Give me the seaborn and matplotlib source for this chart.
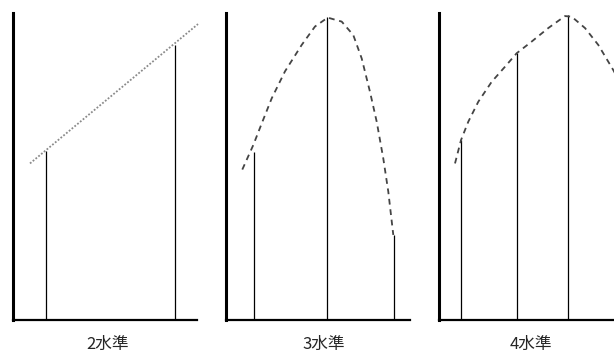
import numpy as np
import pandas as pd
import matplotlib
matplotlib.use("Agg")
import matplotlib.pyplot as plt
import seaborn as sns

sns.set_style("white")
plt.rcParams['font.family'] = ['Noto Sans CJK JP', 'DejaVu Sans']

# ---------------------------
# Data
# ---------------------------

panel_labels = ["2水準", "3水準", "4水準"]

# level positions and responses
levels_2_x = [3.3, 16.2]
levels_2_y = [55.0, 89.6]
levels_3_x = [2.75, 10.05, 16.75]
levels_3_y = [54.7, 98.6, 27.6]
levels_4_x = [2.2, 7.8, 12.9]
levels_4_y = [58.6, 87.0, 99.2]

# trend / response curves
trend_2_x = [1.7, 18.5]
trend_2_y = [51.0, 96.4]
curve_3_x = [1.63, 2.73, 3.57, 4.57, 5.9, 7.57, 8.9, 10.17, 11.57, 12.73,
             13.57, 14.4, 15.07, 15.73, 16.23, 16.73]
curve_3_y = [49.0, 57.0, 64.0, 72.2, 81.0, 89.6, 95.6, 98.5, 97.2, 92.8,
             85.2, 74.3, 64.6, 52.6, 41.8, 27.7]
curve_4_x = [1.6, 2.2, 2.93, 3.93, 5.27, 6.6, 7.77, 9.27, 10.93, 12.6,
             13.27, 14.6, 15.93, 17.43, 18.4]
curve_4_y = [51.0, 58.6, 64.6, 71.1, 77.6, 82.5, 86.9, 90.7, 95.1, 99.0,
             98.8, 95.1, 89.6, 81.4, 75.5]

panels = [
    (levels_2_x, levels_2_y, trend_2_x, trend_2_y, (0, (1, 1)), "#8a8a8a", 0.516),
    (levels_3_x, levels_3_y, curve_3_x, curve_3_y, (0, (3.2, 2.6)), "#444444", 0.533),
    (levels_4_x, levels_4_y, curve_4_x, curve_4_y, (0, (3.2, 2.6)), "#444444", 0.5),
]

fig = plt.figure(figsize=(6.14, 3.56), dpi=100)
lefts = [13 / 614, 226 / 614, 439 / 614]

for left, label, (lx, ly, cx, cy, ls, lc, tx) in zip(lefts, panel_labels, panels):
    ax = fig.add_axes([left, 36 / 356, 184 / 614, 307 / 356])
    ax.set_xlim(0, 18.4)
    ax.set_ylim(0, 100)

    # level lines
    ax.vlines(lx, 0, ly, color="black", linewidth=0.9)

    # curve
    df = pd.DataFrame({"x": cx, "y": cy})
    sns.lineplot(data=df, x="x", y="y", ax=ax, color=lc, linewidth=1.3,
                 linestyle=ls, sort=False, estimator=None)
    for ln in ax.lines:
        ln.set_clip_on(False)

    sns.despine(ax=ax)
    ax.spines['left'].set_linewidth(2.2)
    ax.spines['bottom'].set_linewidth(1.6)
    ax.spines['left'].set_color("black")
    ax.spines['bottom'].set_color("black")
    ax.set_xticks([])
    ax.set_yticks([])
    ax.set_xlabel("")
    ax.set_ylabel("")
    ax.patch.set_alpha(0)

    ax.text(tx, -24 / 307, label, transform=ax.transAxes, ha="center",
            va="center", fontsize=12)

plt.savefig("out.png", dpi=100)
